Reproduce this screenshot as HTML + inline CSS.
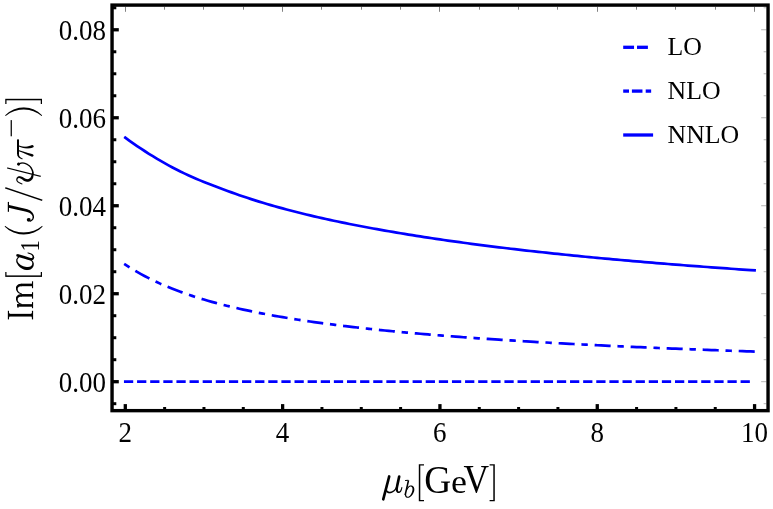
<!DOCTYPE html>
<html><head><meta charset="utf-8"><title>plot</title>
<style>html,body{margin:0;padding:0;background:#fff;}body{width:773px;height:509px;position:relative;overflow:hidden;font-family:"Liberation Serif",serif;}</style>
</head><body>
<svg width="773" height="509" viewBox="0 0 773 509" style="position:absolute;left:0;top:0">
<rect x="0" y="0" width="773" height="509" fill="#fff"/>
<g fill="none" stroke="#0000ff" stroke-width="2.7" stroke-linecap="square" stroke-linejoin="round">
<path d="M125.30,137.72 L129.23,140.54 L133.17,143.32 L137.10,146.03 L141.03,148.68 L144.97,151.25 L148.90,153.77 L152.83,156.23 L156.76,158.62 L160.70,160.95 L164.63,163.17 L168.56,165.34 L172.50,167.45 L176.43,169.51 L180.36,171.51 L184.29,173.38 L188.23,175.19 L192.16,176.96 L196.09,178.68 L200.03,180.37 L203.96,181.98 L207.89,183.56 L211.83,185.10 L215.76,186.60 L219.69,188.06 L223.62,189.49 L227.56,190.93 L231.49,192.37 L235.42,193.77 L239.36,195.15 L243.29,196.49 L247.22,197.81 L251.16,199.10 L255.09,200.36 L259.02,201.60 L262.95,202.80 L266.89,203.96 L270.82,205.11 L274.75,206.23 L278.69,207.33 L282.62,208.40 L286.55,209.46 L290.49,210.50 L294.42,211.51 L298.35,212.51 L302.28,213.49 L306.22,214.45 L310.15,215.39 L314.08,216.32 L318.02,217.23 L321.95,218.13 L325.88,219.00 L329.82,219.87 L333.75,220.72 L337.68,221.55 L341.62,222.37 L345.55,223.18 L349.48,223.98 L353.41,224.76 L357.35,225.53 L361.28,226.29 L365.21,227.03 L369.15,227.77 L373.08,228.49 L377.01,229.20 L380.94,229.90 L384.88,230.59 L388.81,231.27 L392.74,231.94 L396.68,232.61 L400.61,233.26 L404.54,233.91 L408.48,234.56 L412.41,235.19 L416.34,235.82 L420.27,236.44 L424.21,237.05 L428.14,237.66 L432.07,238.25 L436.01,238.84 L439.94,239.42 L443.87,239.99 L447.81,240.55 L451.74,241.11 L455.67,241.66 L459.61,242.21 L463.54,242.75 L467.47,243.28 L471.40,243.80 L475.34,244.32 L479.27,244.83 L483.20,245.34 L487.14,245.84 L491.07,246.33 L495.00,246.82 L498.94,247.31 L502.87,247.78 L506.80,248.26 L510.73,248.72 L514.67,249.19 L518.60,249.64 L522.53,250.09 L526.47,250.54 L530.40,250.98 L534.33,251.42 L538.26,251.86 L542.20,252.28 L546.13,252.71 L550.06,253.13 L554.00,253.54 L557.93,253.95 L561.86,254.36 L565.80,254.76 L569.73,255.16 L573.66,255.56 L577.59,255.95 L581.53,256.34 L585.46,256.72 L589.39,257.10 L593.33,257.47 L597.26,257.85 L601.19,258.22 L605.13,258.58 L609.06,258.94 L612.99,259.30 L616.92,259.66 L620.86,260.01 L624.79,260.36 L628.72,260.70 L632.66,261.05 L636.59,261.39 L640.52,261.72 L644.46,262.06 L648.39,262.39 L652.32,262.72 L656.25,263.04 L660.19,263.36 L664.12,263.68 L668.05,264.00 L671.99,264.31 L675.92,264.62 L679.85,264.93 L683.79,265.24 L687.72,265.54 L691.65,265.84 L695.58,266.14 L699.52,266.44 L703.45,266.73 L707.38,267.02 L711.32,267.31 L715.25,267.60 L719.18,267.88 L723.12,268.17 L727.05,268.45 L730.98,268.73 L734.91,269.00 L738.85,269.28 L742.78,269.55 L746.71,269.82 L750.65,270.08 L754.58,270.35"/>
<path d="M125.30,264.53 L129.23,267.10 L133.17,269.54 L137.10,271.88 L141.03,274.10 L144.97,276.23 L148.90,278.26 L152.83,280.21 L156.76,282.08 L160.70,283.87 L164.63,285.58 L168.56,287.23 L172.50,288.81 L176.43,290.34 L180.36,291.80 L184.29,293.22 L188.23,294.58 L192.16,295.90 L196.09,297.17 L200.03,298.39 L203.96,299.58 L207.89,300.73 L211.83,301.84 L215.76,302.91 L219.69,303.95 L223.62,304.96 L227.56,305.95 L231.49,306.90 L235.42,307.82 L239.36,308.72 L243.29,309.59 L247.22,310.44 L251.16,311.27 L255.09,312.08 L259.02,312.86 L262.95,313.62 L266.89,314.37 L270.82,315.09 L274.75,315.80 L278.69,316.49 L282.62,317.17 L286.55,317.83 L290.49,318.47 L294.42,319.10 L298.35,319.71 L302.28,320.31 L306.22,320.90 L310.15,321.48 L314.08,322.04 L318.02,322.59 L321.95,323.13 L325.88,323.66 L329.82,324.18 L333.75,324.68 L337.68,325.18 L341.62,325.67 L345.55,326.15 L349.48,326.62 L353.41,327.08 L357.35,327.53 L361.28,327.97 L365.21,328.41 L369.15,328.84 L373.08,329.26 L377.01,329.67 L380.94,330.07 L384.88,330.47 L388.81,330.86 L392.74,331.25 L396.68,331.63 L400.61,332.00 L404.54,332.37 L408.48,332.73 L412.41,333.08 L416.34,333.43 L420.27,333.78 L424.21,334.11 L428.14,334.45 L432.07,334.78 L436.01,335.10 L439.94,335.42 L443.87,335.73 L447.81,336.04 L451.74,336.35 L455.67,336.65 L459.61,336.94 L463.54,337.23 L467.47,337.52 L471.40,337.81 L475.34,338.09 L479.27,338.36 L483.20,338.63 L487.14,338.90 L491.07,339.17 L495.00,339.43 L498.94,339.69 L502.87,339.94 L506.80,340.20 L510.73,340.44 L514.67,340.69 L518.60,340.93 L522.53,341.17 L526.47,341.41 L530.40,341.64 L534.33,341.87 L538.26,342.10 L542.20,342.33 L546.13,342.55 L550.06,342.77 L554.00,342.99 L557.93,343.20 L561.86,343.41 L565.80,343.63 L569.73,343.83 L573.66,344.04 L577.59,344.24 L581.53,344.44 L585.46,344.64 L589.39,344.84 L593.33,345.03 L597.26,345.23 L601.19,345.42 L605.13,345.60 L609.06,345.79 L612.99,345.97 L616.92,346.16 L620.86,346.34 L624.79,346.52 L628.72,346.69 L632.66,346.87 L636.59,347.04 L640.52,347.21 L644.46,347.38 L648.39,347.55 L652.32,347.72 L656.25,347.89 L660.19,348.05 L664.12,348.21 L668.05,348.37 L671.99,348.53 L675.92,348.69 L679.85,348.84 L683.79,349.00 L687.72,349.15 L691.65,349.30 L695.58,349.45 L699.52,349.60 L703.45,349.75 L707.38,349.90 L711.32,350.04 L715.25,350.19 L719.18,350.33 L723.12,350.47 L727.05,350.61 L730.98,350.75 L734.91,350.89 L738.85,351.02 L742.78,351.16 L746.71,351.29 L750.65,351.43 L754.58,351.56" stroke-dasharray="3.7 9.5 13.35 9.5"/>
<path d="M125.30,381.70 L754.58,381.70" stroke-dasharray="6.56 6.56"/>
</g>
<g stroke="#000" fill="none">
<line x1="125.50" y1="6.80" x2="125.50" y2="11.80" stroke-width="0.55" stroke-opacity="0.9"/>
<line x1="164.50" y1="6.80" x2="164.50" y2="9.70" stroke-width="0.55" stroke-opacity="0.9"/>
<line x1="203.50" y1="6.80" x2="203.50" y2="9.70" stroke-width="0.55" stroke-opacity="0.9"/>
<line x1="243.50" y1="6.80" x2="243.50" y2="9.70" stroke-width="0.55" stroke-opacity="0.9"/>
<line x1="282.50" y1="6.80" x2="282.50" y2="11.80" stroke-width="0.55" stroke-opacity="0.9"/>
<line x1="321.50" y1="6.80" x2="321.50" y2="9.70" stroke-width="0.55" stroke-opacity="0.9"/>
<line x1="361.50" y1="6.80" x2="361.50" y2="9.70" stroke-width="0.55" stroke-opacity="0.9"/>
<line x1="400.50" y1="6.80" x2="400.50" y2="9.70" stroke-width="0.55" stroke-opacity="0.9"/>
<line x1="439.50" y1="6.80" x2="439.50" y2="11.80" stroke-width="0.55" stroke-opacity="0.9"/>
<line x1="479.50" y1="6.80" x2="479.50" y2="9.70" stroke-width="0.55" stroke-opacity="0.9"/>
<line x1="518.50" y1="6.80" x2="518.50" y2="9.70" stroke-width="0.55" stroke-opacity="0.9"/>
<line x1="557.50" y1="6.80" x2="557.50" y2="9.70" stroke-width="0.55" stroke-opacity="0.9"/>
<line x1="597.50" y1="6.80" x2="597.50" y2="11.80" stroke-width="0.55" stroke-opacity="0.9"/>
<line x1="636.50" y1="6.80" x2="636.50" y2="9.70" stroke-width="0.55" stroke-opacity="0.9"/>
<line x1="675.50" y1="6.80" x2="675.50" y2="9.70" stroke-width="0.55" stroke-opacity="0.9"/>
<line x1="715.50" y1="6.80" x2="715.50" y2="9.70" stroke-width="0.55" stroke-opacity="0.9"/>
<line x1="754.50" y1="6.80" x2="754.50" y2="11.80" stroke-width="0.55" stroke-opacity="0.9"/>
<line x1="766.35" y1="403.69" x2="763.65" y2="403.69" stroke-width="0.5" stroke-opacity="0.6"/>
<line x1="766.35" y1="381.70" x2="761.15" y2="381.70" stroke-width="0.5" stroke-opacity="0.6"/>
<line x1="766.35" y1="359.70" x2="763.65" y2="359.70" stroke-width="0.5" stroke-opacity="0.6"/>
<line x1="766.35" y1="337.71" x2="763.65" y2="337.71" stroke-width="0.5" stroke-opacity="0.6"/>
<line x1="766.35" y1="315.71" x2="763.65" y2="315.71" stroke-width="0.5" stroke-opacity="0.6"/>
<line x1="766.35" y1="293.72" x2="761.15" y2="293.72" stroke-width="0.5" stroke-opacity="0.6"/>
<line x1="766.35" y1="271.72" x2="763.65" y2="271.72" stroke-width="0.5" stroke-opacity="0.6"/>
<line x1="766.35" y1="249.73" x2="763.65" y2="249.73" stroke-width="0.5" stroke-opacity="0.6"/>
<line x1="766.35" y1="227.73" x2="763.65" y2="227.73" stroke-width="0.5" stroke-opacity="0.6"/>
<line x1="766.35" y1="205.74" x2="761.15" y2="205.74" stroke-width="0.5" stroke-opacity="0.6"/>
<line x1="766.35" y1="183.75" x2="763.65" y2="183.75" stroke-width="0.5" stroke-opacity="0.6"/>
<line x1="766.35" y1="161.75" x2="763.65" y2="161.75" stroke-width="0.5" stroke-opacity="0.6"/>
<line x1="766.35" y1="139.75" x2="763.65" y2="139.75" stroke-width="0.5" stroke-opacity="0.6"/>
<line x1="766.35" y1="117.76" x2="761.15" y2="117.76" stroke-width="0.5" stroke-opacity="0.6"/>
<line x1="766.35" y1="95.76" x2="763.65" y2="95.76" stroke-width="0.5" stroke-opacity="0.6"/>
<line x1="766.35" y1="73.77" x2="763.65" y2="73.77" stroke-width="0.5" stroke-opacity="0.6"/>
<line x1="766.35" y1="51.77" x2="763.65" y2="51.77" stroke-width="0.5" stroke-opacity="0.6"/>
<line x1="766.35" y1="29.78" x2="761.15" y2="29.78" stroke-width="0.5" stroke-opacity="0.6"/>
<line x1="766.35" y1="7.78" x2="763.65" y2="7.78" stroke-width="0.5" stroke-opacity="0.6"/>
</g>
<g stroke="#000" fill="none">
<line x1="125.30" y1="410.65" x2="125.30" y2="404.10" stroke-width="3.3"/>
<line x1="164.63" y1="410.65" x2="164.63" y2="407.00" stroke-width="3.0"/>
<line x1="203.96" y1="410.65" x2="203.96" y2="407.00" stroke-width="3.0"/>
<line x1="243.29" y1="410.65" x2="243.29" y2="407.00" stroke-width="3.0"/>
<line x1="282.62" y1="410.65" x2="282.62" y2="404.10" stroke-width="3.3"/>
<line x1="321.95" y1="410.65" x2="321.95" y2="407.00" stroke-width="3.0"/>
<line x1="361.28" y1="410.65" x2="361.28" y2="407.00" stroke-width="3.0"/>
<line x1="400.61" y1="410.65" x2="400.61" y2="407.00" stroke-width="3.0"/>
<line x1="439.94" y1="410.65" x2="439.94" y2="404.10" stroke-width="3.3"/>
<line x1="479.27" y1="410.65" x2="479.27" y2="407.00" stroke-width="3.0"/>
<line x1="518.60" y1="410.65" x2="518.60" y2="407.00" stroke-width="3.0"/>
<line x1="557.93" y1="410.65" x2="557.93" y2="407.00" stroke-width="3.0"/>
<line x1="597.26" y1="410.65" x2="597.26" y2="404.10" stroke-width="3.3"/>
<line x1="636.59" y1="410.65" x2="636.59" y2="407.00" stroke-width="3.0"/>
<line x1="675.92" y1="410.65" x2="675.92" y2="407.00" stroke-width="3.0"/>
<line x1="715.25" y1="410.65" x2="715.25" y2="407.00" stroke-width="3.0"/>
<line x1="754.58" y1="410.65" x2="754.58" y2="404.10" stroke-width="3.3"/>
<line x1="112.05" y1="403.69" x2="116.30" y2="403.69" stroke-width="3.0"/>
<line x1="112.05" y1="381.70" x2="118.80" y2="381.70" stroke-width="3.3"/>
<line x1="112.05" y1="359.70" x2="116.30" y2="359.70" stroke-width="3.0"/>
<line x1="112.05" y1="337.71" x2="116.30" y2="337.71" stroke-width="3.0"/>
<line x1="112.05" y1="315.71" x2="116.30" y2="315.71" stroke-width="3.0"/>
<line x1="112.05" y1="293.72" x2="118.80" y2="293.72" stroke-width="3.3"/>
<line x1="112.05" y1="271.72" x2="116.30" y2="271.72" stroke-width="3.0"/>
<line x1="112.05" y1="249.73" x2="116.30" y2="249.73" stroke-width="3.0"/>
<line x1="112.05" y1="227.73" x2="116.30" y2="227.73" stroke-width="3.0"/>
<line x1="112.05" y1="205.74" x2="118.80" y2="205.74" stroke-width="3.3"/>
<line x1="112.05" y1="183.75" x2="116.30" y2="183.75" stroke-width="3.0"/>
<line x1="112.05" y1="161.75" x2="116.30" y2="161.75" stroke-width="3.0"/>
<line x1="112.05" y1="139.75" x2="116.30" y2="139.75" stroke-width="3.0"/>
<line x1="112.05" y1="117.76" x2="118.80" y2="117.76" stroke-width="3.3"/>
<line x1="112.05" y1="95.76" x2="116.30" y2="95.76" stroke-width="3.0"/>
<line x1="112.05" y1="73.77" x2="116.30" y2="73.77" stroke-width="3.0"/>
<line x1="112.05" y1="51.77" x2="116.30" y2="51.77" stroke-width="3.0"/>
<line x1="112.05" y1="29.78" x2="118.80" y2="29.78" stroke-width="3.3"/>
<line x1="112.05" y1="7.78" x2="116.30" y2="7.78" stroke-width="3.0"/>
</g>
<rect x="112.05" y="5.1" width="656.00" height="405.55" fill="none" stroke="#000" stroke-width="3.4"/>
<g fill="#0000ff">
<rect x="623.20" y="45.65" width="10.85" height="3.3"/>
<rect x="637.00" y="45.65" width="10.90" height="3.3"/>
<rect x="623.20" y="89.45" width="5.80" height="3.3"/>
<rect x="631.90" y="89.45" width="10.55" height="3.3"/>
<rect x="645.70" y="89.45" width="5.45" height="3.3"/>
<rect x="623.20" y="133.35" width="29.90" height="3.3"/>
</g>
<g font-family="Liberation Serif, serif" fill="#000" opacity="0.999">
<text x="667.5" y="55.3" font-size="25.8">LO</text>
<text x="667.5" y="99.2" font-size="25.8">NLO</text>
<text x="667.5" y="143.1" font-size="25.8">NNLO</text>
<text transform="translate(105.9,392.10) scale(0.913,1)" text-anchor="end" font-size="29.6">0.00</text>
<text transform="translate(105.9,304.12) scale(0.913,1)" text-anchor="end" font-size="29.6">0.02</text>
<text transform="translate(105.9,216.14) scale(0.913,1)" text-anchor="end" font-size="29.6">0.04</text>
<text transform="translate(105.9,128.16) scale(0.913,1)" text-anchor="end" font-size="29.6">0.06</text>
<text transform="translate(105.9,40.18) scale(0.913,1)" text-anchor="end" font-size="29.6">0.08</text>
<text transform="translate(125.20,442.4) scale(0.913,1)" text-anchor="middle" font-size="29.6">2</text>
<text transform="translate(282.52,442.4) scale(0.913,1)" text-anchor="middle" font-size="29.6">4</text>
<text transform="translate(439.84,442.4) scale(0.913,1)" text-anchor="middle" font-size="29.6">6</text>
<text transform="translate(597.16,442.4) scale(0.913,1)" text-anchor="middle" font-size="29.6">8</text>
<text transform="translate(754.48,442.4) scale(0.913,1)" text-anchor="middle" font-size="29.6">10</text>
</g>
<g font-family="Liberation Serif, serif" fill="#000" opacity="0.999">
<path d="M387.92,476.07 L387.62,477.23 L387.32,478.39 L387.02,479.56 L386.71,480.72 L386.41,481.89 L386.11,483.05 L385.81,484.21 L385.51,485.37 L385.22,486.52 L384.92,487.67 L384.62,488.81 L384.32,489.95 L384.03,491.08 L383.73,492.21 L383.44,493.33 L383.15,494.46 L382.85,495.58 L382.56,496.71 L382.26,497.84 L381.97,498.97 A1.32,1.32 0 0 0 384.53,499.63 L384.83,498.51 L385.12,497.38 L385.42,496.25 L385.71,495.13 L386.00,494.00 L386.30,492.88 L386.59,491.75 L386.89,490.61 L387.19,489.48 L387.48,488.33 L387.78,487.18 L388.08,486.03 L388.38,484.87 L388.68,483.71 L388.98,482.55 L389.28,481.39 L389.58,480.22 L389.88,479.06 L390.18,477.89 L390.48,476.73 A1.32,1.32 0 0 0 387.92,476.07 Z"/>
<path d="M385.41,488.63 L385.45,488.86 L385.47,489.10 L385.48,489.34 L385.50,489.60 L385.52,489.88 L385.56,490.16 L385.60,490.44 L385.68,490.74 L385.78,491.04 L385.93,491.33 L386.10,491.59 L386.28,491.83 L386.49,492.06 L386.71,492.28 L386.94,492.49 L387.20,492.68 L387.47,492.86 L387.75,493.02 L388.05,493.16 L388.36,493.27 L388.68,493.33 L389.00,493.36 L389.32,493.38 L389.65,493.37 L389.98,493.34 L390.31,493.29 L390.65,493.23 L390.99,493.14 L391.32,493.03 L391.66,492.90 L392.00,492.76 L392.34,492.60 L392.70,492.41 L393.06,492.21 L393.41,491.98 L393.77,491.75 L394.12,491.50 L394.45,491.23 L394.76,490.95 L395.06,490.66 L395.34,490.35 L395.60,490.02 L395.84,489.68 L396.07,489.33 L396.28,488.98 L396.47,488.62 L396.66,488.27 L396.83,487.92 L396.99,487.58 L397.14,487.26 L397.29,486.93 L397.42,486.60 L397.54,486.28 L397.64,485.97 L397.74,485.66 L397.83,485.35 L397.91,485.06 L397.99,484.76 L398.08,484.48 L398.17,484.18 L397.03,483.82 L396.93,484.12 L396.84,484.43 L396.75,484.73 L396.67,485.03 L396.59,485.32 L396.50,485.60 L396.41,485.89 L396.30,486.17 L396.19,486.45 L396.06,486.74 L395.90,487.05 L395.74,487.37 L395.57,487.70 L395.39,488.02 L395.20,488.35 L395.00,488.66 L394.80,488.96 L394.59,489.24 L394.37,489.50 L394.14,489.74 L393.89,489.96 L393.61,490.18 L393.32,490.39 L393.01,490.60 L392.69,490.79 L392.36,490.97 L392.04,491.13 L391.72,491.27 L391.42,491.40 L391.14,491.50 L390.88,491.57 L390.62,491.62 L390.36,491.66 L390.11,491.69 L389.87,491.70 L389.64,491.69 L389.42,491.67 L389.21,491.63 L389.01,491.59 L388.84,491.53 L388.67,491.49 L388.50,491.43 L388.33,491.35 L388.15,491.25 L387.98,491.14 L387.81,491.02 L387.66,490.88 L387.51,490.74 L387.38,490.60 L387.27,490.47 L387.18,490.35 L387.10,490.21 L387.03,490.05 L386.96,489.85 L386.90,489.64 L386.85,489.40 L386.79,489.15 L386.73,488.89 L386.66,488.62 L386.59,488.37 Z"/>
<path d="M397.91,476.22 L397.77,476.82 L397.64,477.43 L397.51,478.05 L397.37,478.66 L397.24,479.28 L397.10,479.89 L396.97,480.49 L396.85,481.09 L396.72,481.67 L396.60,482.23 L396.50,482.77 L396.38,483.31 L396.27,483.85 L396.16,484.38 L396.05,484.91 L395.95,485.43 L395.86,485.93 L395.78,486.42 L395.71,486.90 L395.66,487.36 L395.64,487.78 L395.62,488.18 L395.62,488.57 L395.63,488.93 L395.66,489.29 L395.69,489.63 L395.74,489.96 L395.81,490.28 L395.89,490.59 L395.99,490.90 L396.12,491.19 L396.26,491.48 L396.42,491.75 L396.59,492.00 L396.79,492.25 L397.00,492.47 L397.23,492.67 L397.49,492.84 L397.78,492.98 L398.09,493.07 L398.43,493.11 L398.75,493.09 L399.04,493.02 L399.33,492.93 L399.60,492.81 L399.86,492.67 L400.10,492.52 L400.34,492.35 L400.55,492.16 L400.76,491.96 L400.95,491.74 L401.11,491.49 L401.26,491.24 L401.38,490.98 L401.49,490.71 L401.59,490.45 L401.68,490.19 L401.77,489.94 L401.84,489.71 L401.92,489.49 L401.99,489.28 L402.05,489.06 L402.11,488.85 L402.16,488.65 L402.20,488.45 L402.24,488.26 L402.27,488.07 L402.31,487.89 L402.34,487.71 L402.38,487.52 A0.50,0.50 0 0 0 401.42,487.28 L401.36,487.47 L401.31,487.66 L401.27,487.85 L401.22,488.03 L401.18,488.21 L401.13,488.39 L401.08,488.57 L401.02,488.74 L400.96,488.92 L400.88,489.11 L400.79,489.32 L400.70,489.54 L400.60,489.77 L400.50,490.00 L400.40,490.23 L400.29,490.44 L400.17,490.63 L400.06,490.80 L399.95,490.93 L399.84,491.04 L399.71,491.13 L399.56,491.23 L399.38,491.33 L399.21,491.41 L399.03,491.48 L398.86,491.52 L398.71,491.55 L398.59,491.56 L398.52,491.54 L398.51,491.53 L398.50,491.50 L398.46,491.44 L398.41,491.37 L398.34,491.27 L398.27,491.14 L398.21,491.00 L398.14,490.84 L398.09,490.66 L398.04,490.49 L398.01,490.30 L397.98,490.12 L397.96,489.92 L397.95,489.70 L397.95,489.47 L397.96,489.22 L397.97,488.95 L398.00,488.66 L398.04,488.35 L398.08,488.00 L398.14,487.64 L398.20,487.26 L398.27,486.85 L398.36,486.41 L398.46,485.94 L398.57,485.45 L398.69,484.94 L398.81,484.42 L398.94,483.88 L399.07,483.33 L399.20,482.77 L399.31,482.22 L399.44,481.64 L399.56,481.05 L399.69,480.45 L399.83,479.85 L399.96,479.23 L400.09,478.61 L400.23,478.00 L400.36,477.39 L400.49,476.78 A1.32,1.32 0 0 0 397.91,476.22 Z"/>
<path d="M405.43,480.95 L408.43,480.75 L408.37,479.85 L405.37,480.05 A0.45,0.45 0 0 0 405.43,480.95 Z"/>
<path d="M407.72,480.13 L407.56,480.85 L407.40,481.57 L407.24,482.30 L407.08,483.02 L406.92,483.75 L406.76,484.47 L406.60,485.19 L406.44,485.90 L406.28,486.62 L406.12,487.32 L405.96,488.02 L405.80,488.72 L405.64,489.41 L405.48,490.10 L405.32,490.79 L405.16,491.47 L405.00,492.16 L404.84,492.84 L404.68,493.53 L404.52,494.22 A0.80,0.80 0 0 0 406.08,494.58 L406.24,493.89 L406.40,493.21 L406.56,492.52 L406.72,491.84 L406.88,491.15 L407.04,490.46 L407.20,489.77 L407.36,489.08 L407.52,488.38 L407.68,487.68 L407.84,486.97 L408.00,486.25 L408.16,485.54 L408.32,484.81 L408.48,484.09 L408.64,483.37 L408.80,482.64 L408.96,481.92 L409.12,481.19 L409.28,480.47 Z"/>
<path d="M404.68,494.20 L404.77,494.47 L404.85,494.76 L404.93,495.06 L405.01,495.38 L405.10,495.71 L405.19,496.04 L405.31,496.37 L405.46,496.69 L405.65,496.99 L405.90,497.25 L406.18,497.45 L406.47,497.60 L406.77,497.72 L407.09,497.80 L407.42,497.85 L407.76,497.87 L408.10,497.86 L408.45,497.81 L408.78,497.73 L409.11,497.61 L409.44,497.47 L409.77,497.30 L410.10,497.09 L410.43,496.85 L410.75,496.59 L411.07,496.31 L411.38,496.01 L411.67,495.69 L411.96,495.36 L412.22,495.02 L412.48,494.66 L412.73,494.27 L412.97,493.85 L413.20,493.42 L413.42,492.98 L413.62,492.53 L413.81,492.08 L413.97,491.64 L414.12,491.20 L414.23,490.78 L414.29,490.36 L414.32,489.95 L414.33,489.54 L414.31,489.14 L414.28,488.75 L414.22,488.37 L414.14,488.01 L414.03,487.66 L413.91,487.33 L413.76,487.01 L413.55,486.72 L413.32,486.46 L413.07,486.23 L412.80,486.03 L412.52,485.86 L412.23,485.72 L411.94,485.61 L411.64,485.53 L411.35,485.47 L411.06,485.45 L410.78,485.44 L410.50,485.46 L410.22,485.51 L409.94,485.59 L409.66,485.69 L409.39,485.82 L409.13,485.96 L408.87,486.13 L408.62,486.32 L408.37,486.53 L408.12,486.76 L407.88,487.03 L407.65,487.32 L407.43,487.63 L407.22,487.95 L407.01,488.27 L406.80,488.60 L406.60,488.91 L406.40,489.22 L406.19,489.51 L407.01,490.09 L407.22,489.78 L407.44,489.46 L407.64,489.14 L407.85,488.81 L408.05,488.50 L408.26,488.20 L408.46,487.92 L408.65,487.67 L408.84,487.45 L409.03,487.27 L409.23,487.12 L409.44,486.98 L409.64,486.86 L409.85,486.75 L410.05,486.67 L410.25,486.61 L410.44,486.56 L410.62,486.54 L410.78,486.53 L410.94,486.55 L411.09,486.60 L411.25,486.68 L411.41,486.78 L411.58,486.89 L411.73,487.02 L411.88,487.17 L412.00,487.32 L412.11,487.47 L412.19,487.63 L412.24,487.79 L412.31,487.96 L412.37,488.17 L412.42,488.40 L412.46,488.65 L412.49,488.93 L412.50,489.21 L412.49,489.51 L412.47,489.81 L412.43,490.12 L412.37,490.42 L412.31,490.75 L412.23,491.11 L412.13,491.50 L412.00,491.90 L411.86,492.31 L411.70,492.72 L411.52,493.12 L411.34,493.50 L411.16,493.86 L410.98,494.18 L410.78,494.49 L410.57,494.79 L410.34,495.09 L410.11,495.38 L409.86,495.64 L409.61,495.89 L409.37,496.12 L409.13,496.31 L408.90,496.47 L408.69,496.59 L408.47,496.66 L408.25,496.71 L408.02,496.73 L407.79,496.73 L407.56,496.71 L407.35,496.67 L407.15,496.61 L406.97,496.53 L406.81,496.44 L406.70,496.35 L406.62,496.26 L406.54,496.11 L406.45,495.92 L406.38,495.68 L406.30,495.40 L406.24,495.10 L406.17,494.77 L406.10,494.44 L406.01,494.11 L405.92,493.80 Z"/>
<path d="M418.80,464.20 H424.00 V465.50 H420.30 V499.90 H424.00 V501.20 H418.80 Z"/>
<text transform="translate(424.27,492.51) scale(1.0386,1.1121)" font-size="36">G</text>
<text transform="translate(451.00,492.56) scale(0.9982,0.9530)" font-size="36">e</text>
<text transform="translate(463.50,492.30) scale(0.9845,1.0947)" font-size="36">V</text>
<path d="M494.80,464.20 H489.60 V465.50 H493.30 V499.90 H489.60 V501.20 H494.80 Z"/>
<g transform="translate(0,320) rotate(-90)">
<rect x="3.45" y="8.00" width="2.70" height="25.00"/>
<rect x="0.60" y="7.85" width="8.60" height="1.15"/>
<rect x="0.60" y="31.90" width="8.60" height="1.20"/>
<path d="M2.6,9.0 L3.45,9.0 L3.45,10.2 Z M7.0,9.0 L6.15,9.0 L6.15,10.2 Z M2.6,31.9 L3.45,31.9 L3.45,30.7 Z M7.0,31.9 L6.15,31.9 L6.15,30.7 Z"/>
<rect x="13.30" y="17.20" width="2.55" height="15.80"/>
<rect x="23.40" y="21.00" width="2.55" height="12.00"/>
<rect x="33.80" y="21.00" width="2.55" height="12.00"/>
<rect x="11.80" y="31.95" width="6.10" height="1.15"/>
<rect x="21.40" y="31.95" width="6.40" height="1.15"/>
<rect x="31.80" y="31.95" width="6.90" height="1.15"/>
<path d="M12.2,17.6 L15.85,16.9 L15.85,18.8 L12.2,18.6 Z"/>
<path d="M16.01,21.98 L16.15,21.68 L16.28,21.37 L16.41,21.06 L16.53,20.76 L16.65,20.46 L16.77,20.18 L16.90,19.91 L17.03,19.66 L17.18,19.44 L17.34,19.24 L17.52,19.04 L17.72,18.85 L17.94,18.67 L18.16,18.50 L18.39,18.34 L18.63,18.20 L18.86,18.07 L19.10,17.96 L19.33,17.87 L19.55,17.81 L19.79,17.76 L20.03,17.73 L20.29,17.72 L20.56,17.71 L20.82,17.72 L21.07,17.75 L21.31,17.79 L21.52,17.85 L21.70,17.92 L21.85,17.99 L21.97,18.06 L22.10,18.16 L22.23,18.27 L22.36,18.39 L22.49,18.54 L22.61,18.70 L22.72,18.86 L22.83,19.04 L22.92,19.22 L22.99,19.38 L23.05,19.51 L23.10,19.66 L23.15,19.85 L23.19,20.07 L23.22,20.32 L23.26,20.59 L23.29,20.89 L23.33,21.20 L23.37,21.52 L23.43,21.83 L25.93,21.37 L25.88,21.11 L25.84,20.85 L25.81,20.57 L25.77,20.27 L25.72,19.96 L25.67,19.63 L25.60,19.29 L25.50,18.93 L25.37,18.57 L25.21,18.22 L25.02,17.93 L24.81,17.65 L24.59,17.39 L24.36,17.14 L24.10,16.90 L23.83,16.68 L23.54,16.47 L23.23,16.29 L22.90,16.13 L22.55,16.01 L22.19,15.93 L21.83,15.89 L21.47,15.88 L21.11,15.89 L20.75,15.93 L20.39,15.98 L20.04,16.06 L19.69,16.15 L19.36,16.26 L19.05,16.39 L18.74,16.54 L18.44,16.70 L18.15,16.89 L17.88,17.09 L17.61,17.31 L17.35,17.54 L17.11,17.78 L16.88,18.03 L16.66,18.29 L16.46,18.56 L16.27,18.85 L16.10,19.16 L15.96,19.47 L15.83,19.78 L15.71,20.10 L15.61,20.42 L15.50,20.73 L15.40,21.04 L15.30,21.33 L15.19,21.62 Z"/>
<path d="M26.41,21.98 L26.55,21.68 L26.68,21.37 L26.81,21.06 L26.93,20.76 L27.05,20.46 L27.17,20.18 L27.30,19.91 L27.43,19.66 L27.58,19.44 L27.74,19.24 L27.92,19.04 L28.12,18.85 L28.34,18.67 L28.56,18.50 L28.79,18.34 L29.03,18.20 L29.26,18.07 L29.50,17.96 L29.73,17.87 L29.95,17.81 L30.19,17.76 L30.43,17.73 L30.69,17.72 L30.96,17.71 L31.22,17.72 L31.47,17.75 L31.71,17.79 L31.92,17.85 L32.10,17.92 L32.25,17.99 L32.37,18.06 L32.50,18.16 L32.63,18.27 L32.76,18.39 L32.89,18.54 L33.01,18.70 L33.12,18.86 L33.23,19.04 L33.32,19.22 L33.39,19.38 L33.45,19.51 L33.50,19.66 L33.55,19.85 L33.59,20.07 L33.62,20.32 L33.66,20.59 L33.69,20.89 L33.73,21.20 L33.77,21.52 L33.83,21.83 L36.33,21.37 L36.28,21.11 L36.24,20.85 L36.21,20.57 L36.17,20.27 L36.12,19.96 L36.07,19.63 L36.00,19.29 L35.90,18.93 L35.77,18.57 L35.61,18.22 L35.42,17.93 L35.21,17.65 L34.99,17.39 L34.76,17.14 L34.50,16.90 L34.23,16.68 L33.94,16.47 L33.63,16.29 L33.30,16.13 L32.95,16.01 L32.59,15.93 L32.23,15.89 L31.87,15.88 L31.51,15.89 L31.15,15.93 L30.79,15.98 L30.44,16.06 L30.09,16.15 L29.76,16.26 L29.45,16.39 L29.14,16.54 L28.84,16.70 L28.55,16.89 L28.28,17.09 L28.01,17.31 L27.75,17.54 L27.51,17.78 L27.28,18.03 L27.06,18.29 L26.86,18.56 L26.67,18.85 L26.50,19.16 L26.36,19.47 L26.23,19.78 L26.11,20.10 L26.01,20.42 L25.90,20.73 L25.80,21.04 L25.70,21.33 L25.59,21.62 Z"/>
<path d="M43.10,5.30 H48.00 V6.60 H44.60 V40.80 H48.00 V42.10 H43.10 Z"/>
<path d="M63.30,17.23 L63.11,17.91 L62.92,18.58 L62.73,19.26 L62.54,19.93 L62.35,20.61 L62.16,21.28 L61.97,21.95 L61.78,22.61 L61.59,23.27 L61.41,23.92 L61.22,24.56 L61.01,25.24 L60.79,25.93 L60.57,26.62 L60.35,27.32 L60.14,28.00 L59.94,28.65 L59.78,29.28 L59.65,29.88 L59.56,30.44 L59.54,30.95 L59.57,31.42 L59.65,31.85 L59.77,32.25 L59.94,32.61 L60.14,32.91 L60.35,33.16 L60.56,33.36 L60.75,33.51 L60.95,33.66 L61.20,33.83 L61.50,33.97 L61.80,34.07 L62.10,34.13 L62.40,34.16 L62.70,34.16 L62.99,34.14 L63.28,34.09 L63.56,34.01 L63.82,33.92 L64.07,33.81 L64.33,33.69 L64.58,33.55 L64.83,33.38 L65.08,33.20 L65.33,32.99 L65.56,32.76 L65.79,32.51 L66.00,32.23 L66.20,31.93 L66.39,31.59 L66.55,31.23 L66.70,30.85 L66.84,30.46 L66.97,30.06 L67.09,29.65 L67.21,29.24 L67.33,28.84 L67.44,28.45 L67.57,28.07 A0.50,0.50 0 0 0 66.63,27.73 L66.48,28.11 L66.34,28.51 L66.20,28.92 L66.06,29.32 L65.92,29.71 L65.78,30.08 L65.64,30.43 L65.50,30.76 L65.35,31.04 L65.20,31.27 L65.03,31.48 L64.86,31.66 L64.67,31.83 L64.49,31.97 L64.29,32.10 L64.10,32.21 L63.91,32.30 L63.72,32.38 L63.54,32.44 L63.38,32.48 L63.22,32.50 L63.07,32.50 L62.92,32.49 L62.77,32.46 L62.64,32.43 L62.52,32.38 L62.42,32.32 L62.34,32.27 L62.30,32.21 L62.25,32.14 L62.17,32.03 L62.08,31.91 L62.02,31.81 L61.99,31.72 L61.97,31.64 L61.96,31.55 L61.96,31.44 L61.97,31.28 L61.99,31.05 L62.04,30.76 L62.11,30.39 L62.24,29.92 L62.40,29.38 L62.60,28.78 L62.82,28.13 L63.05,27.46 L63.30,26.76 L63.54,26.06 L63.78,25.37 L63.99,24.68 L64.19,24.02 L64.38,23.36 L64.57,22.69 L64.76,22.02 L64.95,21.34 L65.14,20.66 L65.33,19.99 L65.52,19.31 L65.71,18.64 L65.90,17.97 A1.35,1.35 0 0 0 63.30,17.23 Z"/>
<path d="M63.74,18.56 L63.46,18.35 L63.18,18.12 L62.90,17.88 L62.62,17.62 L62.32,17.37 L62.02,17.12 L61.70,16.89 L61.37,16.68 L61.02,16.50 L60.65,16.37 L60.29,16.27 L59.94,16.20 L59.58,16.17 L59.21,16.16 L58.84,16.18 L58.46,16.24 L58.09,16.32 L57.71,16.43 L57.33,16.57 L56.94,16.74 L56.54,16.92 L56.13,17.13 L55.70,17.38 L55.27,17.65 L54.84,17.95 L54.41,18.28 L53.99,18.63 L53.59,19.00 L53.20,19.39 L52.83,19.80 L52.49,20.24 L52.16,20.70 L51.85,21.19 L51.55,21.69 L51.27,22.21 L51.01,22.74 L50.77,23.27 L50.55,23.80 L50.35,24.34 L50.19,24.87 L50.09,25.41 L50.02,25.96 L49.98,26.50 L49.96,27.04 L49.97,27.57 L50.00,28.09 L50.06,28.60 L50.14,29.09 L50.24,29.57 L50.36,30.03 L50.57,30.47 L50.80,30.88 L51.06,31.27 L51.33,31.62 L51.63,31.94 L51.94,32.24 L52.25,32.50 L52.58,32.74 L52.91,32.95 L53.24,33.13 L53.59,33.30 L53.94,33.45 L54.31,33.57 L54.69,33.66 L55.06,33.72 L55.44,33.76 L55.81,33.77 L56.19,33.76 L56.55,33.72 L56.90,33.64 L57.24,33.57 L57.57,33.47 L57.90,33.34 L58.23,33.19 L58.55,33.01 L58.87,32.81 L59.17,32.58 L59.47,32.33 L59.75,32.06 L60.02,31.76 L60.28,31.42 L60.52,31.05 L60.74,30.66 L60.95,30.25 L61.15,29.82 L61.34,29.39 L61.53,28.96 L61.71,28.54 L61.90,28.14 L62.09,27.74 L61.11,27.26 L60.91,27.66 L60.71,28.09 L60.52,28.52 L60.34,28.95 L60.15,29.37 L59.96,29.77 L59.77,30.14 L59.58,30.48 L59.38,30.78 L59.18,31.04 L58.96,31.27 L58.72,31.47 L58.48,31.66 L58.23,31.82 L57.97,31.96 L57.71,32.08 L57.46,32.18 L57.20,32.26 L56.95,32.32 L56.70,32.36 L56.46,32.35 L56.21,32.32 L55.95,32.27 L55.69,32.20 L55.44,32.12 L55.19,32.01 L54.95,31.89 L54.73,31.76 L54.54,31.62 L54.36,31.47 L54.20,31.29 L54.03,31.09 L53.88,30.88 L53.74,30.65 L53.61,30.42 L53.50,30.18 L53.40,29.93 L53.33,29.68 L53.27,29.43 L53.24,29.17 L53.17,28.89 L53.11,28.57 L53.06,28.23 L53.03,27.86 L53.02,27.48 L53.02,27.09 L53.04,26.69 L53.08,26.30 L53.14,25.91 L53.21,25.53 L53.28,25.13 L53.37,24.70 L53.48,24.25 L53.62,23.79 L53.78,23.33 L53.96,22.87 L54.15,22.42 L54.35,21.99 L54.56,21.58 L54.77,21.20 L54.99,20.84 L55.24,20.47 L55.52,20.11 L55.81,19.76 L56.12,19.42 L56.44,19.10 L56.75,18.80 L57.07,18.52 L57.37,18.28 L57.66,18.06 L57.94,17.90 L58.22,17.75 L58.50,17.64 L58.77,17.54 L59.04,17.47 L59.30,17.42 L59.57,17.39 L59.83,17.38 L60.10,17.39 L60.35,17.43 L60.59,17.51 L60.83,17.63 L61.08,17.79 L61.34,17.99 L61.61,18.21 L61.89,18.45 L62.18,18.70 L62.47,18.96 L62.77,19.21 L63.06,19.44 Z"/>
<text transform="translate(68.60,39.00) scale(0.6312,0.7364)" font-size="36">1</text>
<path d="M93.30,4.80 A26.80,26.80 0 0 0 93.30,42.60 L94.20,42.30 A29.51,29.51 0 0 1 94.20,5.10 Z"/>
<path d="M118.10,7.78 L108.20,7.78 L108.20,9.02 L118.10,9.02 Z"/>
<path d="M112.34,8.28 L112.12,9.22 L111.90,10.16 L111.68,11.10 L111.46,12.05 L111.24,12.99 L111.02,13.93 L110.80,14.87 L110.58,15.81 L110.36,16.74 L110.14,17.68 L109.92,18.65 L109.70,19.65 L109.48,20.67 L109.27,21.69 L109.05,22.69 L108.84,23.67 L108.63,24.59 L108.42,25.44 L108.21,26.22 L108.01,26.89 L107.85,27.48 L107.69,27.99 L107.54,28.43 L107.41,28.80 L107.27,29.12 L107.13,29.41 L106.99,29.67 L106.83,29.93 L106.64,30.20 L106.43,30.48 L106.21,30.75 L105.98,31.01 L105.72,31.26 L105.44,31.49 L105.16,31.71 L104.86,31.91 L104.57,32.10 L104.28,32.25 L104.00,32.39 L103.74,32.49 L103.48,32.55 L103.21,32.58 L102.94,32.59 L102.66,32.58 L102.38,32.55 L102.11,32.50 L101.84,32.43 L101.59,32.34 L101.35,32.25 L101.14,32.14 L100.96,32.03 L100.80,31.88 L100.64,31.70 L100.48,31.49 L100.32,31.26 L100.15,31.00 L99.98,30.73 L99.80,30.45 L99.62,30.17 L99.42,29.91 A0.65,0.65 0 0 0 98.38,30.69 L98.55,30.92 L98.72,31.17 L98.88,31.43 L99.05,31.70 L99.23,31.98 L99.43,32.26 L99.64,32.54 L99.88,32.80 L100.16,33.05 L100.46,33.26 L100.77,33.43 L101.09,33.58 L101.43,33.71 L101.78,33.82 L102.14,33.90 L102.52,33.96 L102.90,34.00 L103.28,34.00 L103.68,33.97 L104.06,33.91 L104.45,33.83 L104.85,33.73 L105.26,33.59 L105.66,33.43 L106.07,33.24 L106.47,33.02 L106.87,32.78 L107.25,32.51 L107.62,32.22 L107.97,31.92 L108.27,31.62 L108.56,31.32 L108.84,31.01 L109.11,30.66 L109.37,30.29 L109.62,29.88 L109.86,29.43 L110.10,28.92 L110.34,28.36 L110.59,27.71 L110.82,26.96 L111.05,26.13 L111.28,25.23 L111.51,24.28 L111.74,23.29 L111.96,22.28 L112.19,21.26 L112.42,20.25 L112.64,19.27 L112.86,18.32 L113.08,17.38 L113.30,16.45 L113.52,15.51 L113.74,14.57 L113.96,13.62 L114.18,12.68 L114.40,11.74 L114.62,10.80 L114.84,9.86 L115.06,8.92 Z"/>
<circle cx="100.2" cy="28.7" r="1.85"/>
<path d="M119.7,42.2 L132.2,5.2" stroke="#000" stroke-width="1.45" fill="none"/>
<path d="M151.49,7.06 L143.04,40.61 L144.16,40.89 L152.61,7.34 Z"/>
<path d="M155.09,18.44 L155.23,18.83 L155.39,19.22 L155.56,19.60 L155.72,19.97 L155.87,20.34 L156.01,20.69 L156.13,21.04 L156.23,21.38 L156.31,21.71 L156.35,22.04 L156.36,22.39 L156.35,22.75 L156.33,23.12 L156.28,23.48 L156.22,23.85 L156.14,24.22 L156.03,24.59 L155.91,24.97 L155.77,25.35 L155.61,25.73 L155.42,26.13 L155.20,26.55 L154.96,26.98 L154.71,27.41 L154.43,27.83 L154.14,28.25 L153.83,28.65 L153.51,29.03 L153.18,29.38 L152.85,29.70 L152.49,29.98 L152.09,30.26 L151.67,30.52 L151.22,30.77 L150.76,31.00 L150.30,31.21 L149.84,31.40 L149.39,31.57 L148.97,31.72 L148.58,31.83 L148.23,31.90 L147.90,31.93 L147.59,31.94 L147.27,31.93 L146.94,31.89 L146.61,31.85 L146.26,31.81 L145.88,31.76 L145.49,31.72 L145.10,31.70 L145.10,33.70 L145.44,33.68 L145.77,33.68 L146.11,33.68 L146.48,33.69 L146.86,33.69 L147.26,33.69 L147.68,33.66 L148.11,33.60 L148.57,33.51 L149.02,33.37 L149.48,33.21 L149.95,33.02 L150.44,32.81 L150.94,32.57 L151.44,32.31 L151.93,32.03 L152.42,31.73 L152.89,31.41 L153.33,31.07 L153.75,30.70 L154.14,30.32 L154.52,29.91 L154.88,29.48 L155.21,29.03 L155.53,28.57 L155.83,28.10 L156.11,27.63 L156.36,27.16 L156.59,26.71 L156.79,26.27 L156.98,25.83 L157.14,25.40 L157.28,24.96 L157.40,24.53 L157.49,24.10 L157.57,23.67 L157.62,23.24 L157.65,22.81 L157.66,22.39 L157.65,21.96 L157.61,21.52 L157.54,21.08 L157.44,20.65 L157.32,20.24 L157.18,19.84 L157.04,19.45 L156.89,19.06 L156.75,18.69 L156.63,18.33 L156.51,17.96 A0.75,0.75 0 0 0 155.09,18.44 Z"/>
<path d="M145.42,31.75 L145.06,31.60 L144.66,31.46 L144.28,31.33 L143.92,31.21 L143.57,31.08 L143.26,30.96 L142.98,30.83 L142.73,30.70 L142.54,30.56 L142.37,30.41 L142.18,30.24 L141.99,30.03 L141.79,29.79 L141.60,29.54 L141.43,29.28 L141.28,29.01 L141.15,28.74 L141.04,28.48 L140.97,28.24 L140.92,28.03 L140.89,27.83 L140.87,27.62 L140.88,27.37 L140.91,27.10 L140.96,26.81 L141.03,26.50 L141.11,26.19 L141.20,25.88 L141.31,25.57 L141.40,25.29 L141.49,25.06 L141.59,24.85 L141.72,24.63 L141.87,24.38 L142.05,24.12 L142.25,23.84 L142.46,23.54 L142.66,23.22 L142.86,22.86 L143.03,22.50 L143.16,22.16 L143.29,21.82 L143.41,21.46 L143.53,21.10 L143.64,20.72 L143.73,20.34 L143.80,19.95 L143.84,19.56 L143.84,19.16 L143.79,18.76 L143.68,18.39 L143.52,18.05 L143.32,17.74 L143.10,17.45 L142.85,17.20 L142.59,16.97 L142.31,16.77 L142.01,16.60 L141.70,16.47 L141.39,16.38 L141.09,16.31 L140.78,16.27 L140.45,16.26 L140.11,16.27 L139.76,16.31 L139.40,16.40 L139.03,16.52 L138.68,16.70 L138.34,16.92 L138.02,17.21 L137.72,17.55 L137.44,17.94 L137.19,18.38 L136.94,18.84 L136.70,19.33 L136.47,19.84 L136.24,20.34 L136.01,20.84 L135.79,21.32 L135.56,21.77 A0.50,0.50 0 0 0 136.44,22.23 L136.69,21.77 L136.93,21.28 L137.17,20.78 L137.41,20.28 L137.65,19.79 L137.88,19.33 L138.12,18.91 L138.35,18.53 L138.57,18.22 L138.78,17.99 L139.00,17.83 L139.22,17.70 L139.46,17.60 L139.69,17.54 L139.93,17.50 L140.17,17.49 L140.40,17.50 L140.63,17.52 L140.84,17.57 L141.01,17.62 L141.15,17.70 L141.29,17.80 L141.44,17.93 L141.58,18.08 L141.71,18.24 L141.82,18.41 L141.91,18.59 L141.97,18.76 L142.01,18.91 L142.01,19.04 L141.99,19.16 L141.96,19.34 L141.90,19.55 L141.81,19.80 L141.70,20.07 L141.57,20.35 L141.42,20.64 L141.27,20.94 L141.11,21.23 L140.97,21.50 L140.84,21.72 L140.69,21.92 L140.52,22.14 L140.32,22.38 L140.11,22.63 L139.88,22.91 L139.64,23.21 L139.41,23.55 L139.18,23.92 L139.00,24.31 L138.85,24.68 L138.72,25.05 L138.59,25.43 L138.47,25.84 L138.37,26.26 L138.28,26.69 L138.22,27.14 L138.19,27.61 L138.21,28.09 L138.28,28.57 L138.41,29.03 L138.58,29.47 L138.77,29.89 L139.00,30.30 L139.25,30.70 L139.53,31.08 L139.83,31.44 L140.14,31.77 L140.47,32.09 L140.83,32.39 L141.24,32.64 L141.68,32.85 L142.10,33.01 L142.53,33.14 L142.94,33.24 L143.34,33.33 L143.72,33.40 L144.09,33.48 L144.43,33.55 L144.78,33.65 Z"/>
<circle cx="155.9" cy="18.5" r="1.55"/>
<path d="M179.90,17.10 L179.10,17.10 L178.29,17.10 L177.47,17.10 L176.65,17.10 L175.83,17.10 L175.02,17.10 L174.23,17.10 L173.46,17.10 L172.71,17.10 L172.00,17.10 L171.31,17.10 L170.63,17.09 L169.96,17.08 L169.31,17.07 L168.67,17.06 L168.06,17.05 L167.47,17.05 L166.92,17.06 L166.40,17.07 L165.93,17.10 L165.51,17.15 L165.15,17.21 L164.82,17.28 L164.53,17.36 L164.26,17.44 L164.02,17.54 L163.79,17.65 L163.59,17.76 L163.39,17.88 L163.19,18.01 L162.98,18.17 L162.77,18.35 L162.59,18.53 L162.43,18.72 L162.29,18.91 L162.16,19.10 L162.04,19.29 L161.92,19.48 L161.82,19.67 L161.71,19.86 L161.59,20.06 L161.47,20.27 L161.36,20.49 L161.26,20.71 L161.16,20.93 L161.07,21.15 L160.98,21.36 L160.89,21.57 L160.80,21.78 L160.70,21.99 A0.45,0.45 0 0 0 161.50,22.41 L161.62,22.21 L161.74,22.01 L161.86,21.81 L161.98,21.61 L162.10,21.41 L162.21,21.22 L162.33,21.04 L162.45,20.86 L162.57,20.70 L162.69,20.54 L162.83,20.38 L162.97,20.23 L163.10,20.08 L163.22,19.94 L163.35,19.82 L163.48,19.71 L163.60,19.61 L163.73,19.53 L163.86,19.46 L164.01,19.39 L164.17,19.31 L164.33,19.25 L164.47,19.20 L164.61,19.15 L164.76,19.12 L164.94,19.09 L165.14,19.06 L165.40,19.04 L165.71,19.01 L166.07,19.00 L166.49,18.97 L166.96,18.96 L167.48,18.95 L168.04,18.95 L168.64,18.96 L169.28,18.97 L169.93,18.98 L170.61,18.99 L171.30,19.00 L172.00,19.00 L172.71,19.00 L173.46,19.00 L174.23,19.00 L175.02,19.00 L175.83,19.00 L176.65,19.00 L177.47,19.00 L178.29,19.00 L179.10,19.00 L179.90,19.00 A0.95,0.95 0 0 0 179.90,17.10 Z"/>
<path d="M173.62,18.45 L173.49,18.83 L173.34,19.21 L173.20,19.59 L173.05,19.97 L172.90,20.36 L172.76,20.75 L172.62,21.15 L172.49,21.55 L172.37,21.96 L172.26,22.37 L172.16,22.78 L172.06,23.19 L171.97,23.61 L171.89,24.03 L171.82,24.45 L171.76,24.87 L171.71,25.28 L171.66,25.70 L171.63,26.11 L171.60,26.52 L171.58,26.92 L171.57,27.33 L171.58,27.74 L171.60,28.14 L171.62,28.52 L171.65,28.90 L171.68,29.26 L171.72,29.61 L171.75,29.94 L171.78,30.26 L171.84,30.57 L171.91,30.87 L171.98,31.15 L172.05,31.41 L172.12,31.66 L172.19,31.89 L172.26,32.12 L172.33,32.33 L172.39,32.55 L172.46,32.78 A1.30,1.30 0 0 0 174.94,32.02 L174.87,31.78 L174.78,31.54 L174.70,31.31 L174.63,31.09 L174.55,30.88 L174.48,30.67 L174.41,30.46 L174.35,30.24 L174.28,30.00 L174.22,29.74 L174.13,29.45 L174.03,29.15 L173.93,28.83 L173.83,28.51 L173.74,28.18 L173.66,27.84 L173.58,27.50 L173.51,27.17 L173.45,26.83 L173.40,26.48 L173.37,26.13 L173.36,25.76 L173.35,25.38 L173.35,25.00 L173.36,24.60 L173.38,24.21 L173.41,23.81 L173.45,23.41 L173.49,23.02 L173.54,22.63 L173.61,22.25 L173.69,21.88 L173.78,21.50 L173.88,21.11 L174.00,20.73 L174.11,20.34 L174.23,19.94 L174.35,19.55 L174.47,19.15 L174.58,18.75 Z"/>
<path d="M168.93,18.44 L168.76,18.87 L168.60,19.31 L168.44,19.74 L168.28,20.18 L168.12,20.61 L167.96,21.04 L167.79,21.48 L167.63,21.91 L167.46,22.34 L167.29,22.78 L167.10,23.21 L166.91,23.64 L166.71,24.07 L166.51,24.51 L166.31,24.94 L166.11,25.38 L165.91,25.83 L165.70,26.27 L165.50,26.72 L165.31,27.18 L165.11,27.63 L164.91,28.09 L164.71,28.55 L164.52,29.02 L164.33,29.48 L164.14,29.94 L163.94,30.40 L163.75,30.87 L163.56,31.32 L163.37,31.78 A1.30,1.30 0 0 0 165.83,32.62 L165.96,32.13 L166.08,31.65 L166.21,31.16 L166.34,30.68 L166.46,30.20 L166.59,29.72 L166.71,29.24 L166.84,28.76 L166.97,28.29 L167.09,27.82 L167.23,27.36 L167.37,26.90 L167.51,26.44 L167.66,25.98 L167.80,25.52 L167.95,25.06 L168.09,24.60 L168.24,24.14 L168.38,23.68 L168.51,23.22 L168.66,22.77 L168.80,22.32 L168.94,21.87 L169.07,21.42 L169.21,20.98 L169.34,20.53 L169.47,20.09 L169.61,19.65 L169.74,19.20 L169.87,18.76 Z"/>
<path d="M183.7,11.25 H199.9" stroke="#000" stroke-width="1.25" fill="none"/>
<path d="M204.80,5.30 A25.60,25.60 0 0 1 204.80,42.10 L203.90,41.80 A28.12,28.12 0 0 0 203.90,5.60 Z"/>
<path d="M221.20,5.30 H216.00 V6.60 H219.70 V40.80 H216.00 V42.10 H221.20 Z"/>
</g></g>
</svg>
</body></html>
